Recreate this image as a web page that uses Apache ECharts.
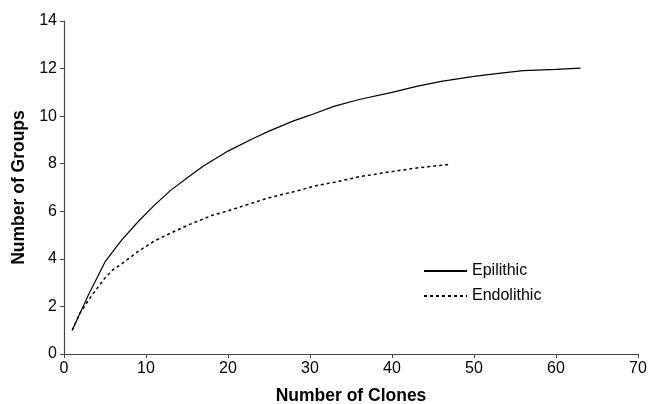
<!DOCTYPE html>
<html>
<head>
<meta charset="utf-8">
<script src="https://cdn.jsdelivr.net/npm/echarts@6/dist/echarts.min.js"></script>
<style>
  html, body { margin: 0; padding: 0; background: #fff; }
  #chart { width: 651px; height: 404px; }
</style>
</head>
<body>
<div id="chart"></div>
<script>
// rarefaction curves: number of groups vs number of clones
var epiClones = [1, 3, 5, 7, 9, 11, 13, 15, 17, 20, 23, 25, 28, 30, 33, 36, 40, 43, 46, 50, 53, 56, 60, 63];
var epiGroups = [1, 2.5, 3.87, 4.78, 5.55, 6.25, 6.88, 7.4, 7.9, 8.53, 9.05, 9.37, 9.8, 10.04, 10.42, 10.7, 11.0, 11.25, 11.46, 11.67, 11.8, 11.91, 11.97, 12.02];

var endoClones = [1, 2, 3, 4, 5, 6, 7, 9, 11, 13, 15, 18, 20, 22, 25, 28, 31, 33, 36, 39, 43, 47];
var endoGroups = [1, 1.75, 2.27, 2.75, 3.2, 3.55, 3.78, 4.3, 4.75, 5.08, 5.4, 5.82, 6.02, 6.24, 6.57, 6.82, 7.1, 7.22, 7.45, 7.62, 7.82, 7.97];

var seriesNames = ['Epilithic', 'Endolithic'];

function pairs(xs, ys) {
    var out = [];
    for (var i = 0; i < xs.length; i++) out.push([xs[i], ys[i]]);
    return out;
}

var myChart = echarts.init(document.getElementById('chart'));
var font = 'Liberation Sans, Arial, sans-serif';

var option = {
    animation: false,
    backgroundColor: '#fff',
    textStyle: { fontFamily: font },
    grid: { left: 64, right: 13, top: 21, bottom: 50, outerBoundsMode: 'none' },
    legend: {
        orient: 'vertical',
        left: 418,
        top: 258,
        itemWidth: 43,
        itemHeight: 14,
        itemGap: 9,
        itemStyle: { opacity: 0 },
        textStyle: { fontFamily: font, fontSize: 16, color: '#000' },
        data: seriesNames
    },
    xAxis: {
        type: 'value',
        min: 0, max: 70, interval: 10,
        name: 'Number of Clones',
        nameLocation: 'middle',
        nameGap: 33,
        nameTextStyle: { fontFamily: font, fontSize: 17.5, fontWeight: 'bold', color: '#000' },
        axisLine: { lineStyle: { color: '#444', width: 1.2 } },
        axisTick: { show: true, length: 4, lineStyle: { color: '#444' } },
        axisLabel: { fontSize: 16, color: '#000', margin: 7 },
        splitLine: { show: false }
    },
    yAxis: {
        type: 'value',
        min: 0, max: 14, interval: 2,
        name: 'Number of Groups',
        nameLocation: 'middle',
        nameGap: 35,
        nameTextStyle: { fontFamily: font, fontSize: 17.5, fontWeight: 'bold', color: '#000' },
        axisLine: { show: true, lineStyle: { color: '#444', width: 1.2 } },
        axisTick: { show: true, length: 4, lineStyle: { color: '#444' } },
        axisLabel: { fontSize: 16, color: '#000', margin: 7 },
        splitLine: { show: false }
    },
    series: [
        {
            name: seriesNames[0],
            type: 'line',
            symbol: 'none',
            smooth: false,
            lineStyle: { color: '#000', width: 1.2, type: 'solid' },
            itemStyle: { color: '#000' },
            data: pairs(epiClones, epiGroups)
        },
        {
            name: seriesNames[1],
            type: 'line',
            symbol: 'none',
            smooth: false,
            lineStyle: { color: '#000', width: 1.5, type: [3, 3] },
            itemStyle: { color: '#000' },
            data: pairs(endoClones, endoGroups)
        }
    ]
};
myChart.setOption(option);
</script>
</body>
</html>
